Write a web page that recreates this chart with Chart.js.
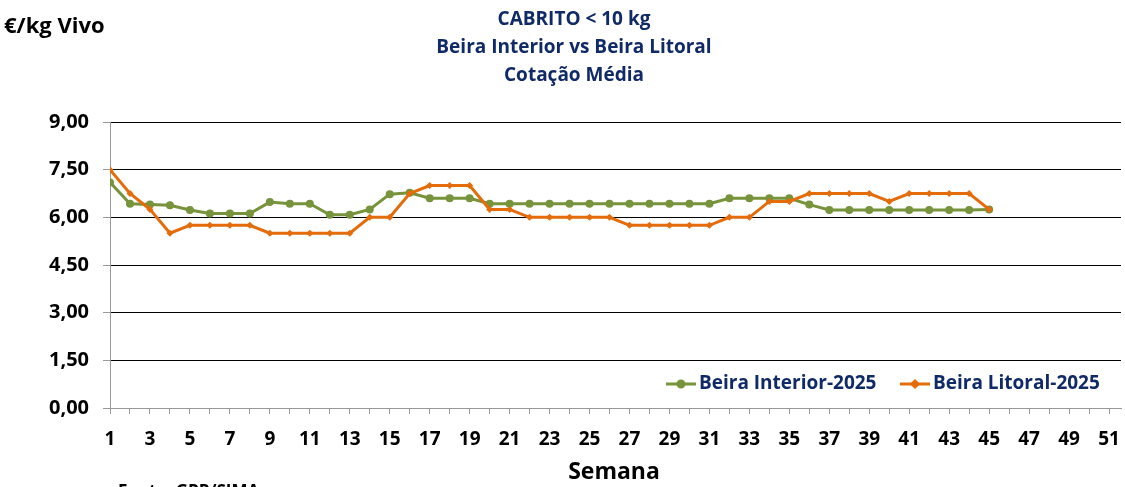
<!DOCTYPE html>
<html>
<head>
<meta charset="utf-8">
<script src="https://cdn.jsdelivr.net/npm/chart.js@4"></script>
<style>
  html, body { margin: 0; padding: 0; background: #fff; }
  #wrap { width: 1125px; height: 487px; }
</style>
</head>
<body>
<div id="wrap"><canvas id="myChart" width="1125" height="487"></canvas></div>
<script>
// dados
var weeks = [1, 2, 3, 4, 5, 6, 7, 8, 9, 10, 11, 12, 13, 14, 15, 16, 17, 18, 19, 20,
  21, 22, 23, 24, 25, 26, 27, 28, 29, 30, 31, 32, 33, 34, 35, 36, 37, 38, 39, 40,
  41, 42, 43, 44, 45];
var beiraInterior = [7.10, 6.43, 6.40, 6.38, 6.23, 6.12, 6.12, 6.12, 6.48, 6.43,
  6.43, 6.08, 6.08, 6.25, 6.73, 6.77, 6.60, 6.60, 6.60, 6.43,
  6.43, 6.43, 6.43, 6.43, 6.43, 6.43, 6.43, 6.43, 6.43, 6.43,
  6.43, 6.60, 6.60, 6.60, 6.60, 6.40, 6.23, 6.23, 6.23, 6.23,
  6.23, 6.23, 6.23, 6.23, 6.25];
var beiraLitoral = [7.50, 6.75, 6.25, 5.50, 5.75, 5.75, 5.75, 5.75, 5.50, 5.50,
  5.50, 5.50, 5.50, 6.00, 6.00, 6.75, 7.00, 7.00, 7.00, 6.25,
  6.25, 6.00, 6.00, 6.00, 6.00, 6.00, 5.75, 5.75, 5.75, 5.75,
  5.75, 6.00, 6.00, 6.50, 6.50, 6.75, 6.75, 6.75, 6.75, 6.50,
  6.75, 6.75, 6.75, 6.75, 6.25];
var axisWeeks = [];
for (var w = 1; w <= 51; w++) axisWeeks.push(w);
var yTicks = [0, 1.5, 3, 4.5, 6, 7.5, 9];

var titleLines = ["CABRITO < 10 kg", "Beira Interior vs Beira Litoral", "Cotação Média"];
var seriesNames = ["Beira Interior-2025", "Beira Litoral-2025"];

var GREEN = "#77933C";
var ORANGE = "#E46C0A";
var NAVY = "#102a68";
var FONT = "'Open Sans', 'DejaVu Sans', sans-serif";

// textos fora do grafico (titulo, legenda, eixos)
var extras = {
  id: "extras",
  afterDraw: function (chart) {
    var ctx = chart.ctx;
    ctx.save();
    ctx.textBaseline = "middle";

    // titulo
    ctx.fillStyle = NAVY;
    ctx.textAlign = "center";
    ctx.font = "bold 19px " + FONT;
    ctx.fillText(titleLines[0], 574, 20);
    ctx.fillText(titleLines[1], 574, 48);
    ctx.fillText(titleLines[2], 574, 76);

    // unidade
    ctx.fillStyle = "#000";
    ctx.textAlign = "left";
    ctx.font = "bold 22px " + FONT;
    ctx.fillText("€/kg Vivo", 4, 27);

    // titulo eixo x
    ctx.textAlign = "center";
    ctx.font = "bold 23px " + FONT;
    ctx.fillText("Semana", 614, 472);

    // fonte
    ctx.textAlign = "left";
    ctx.font = "bold 17px " + FONT;
    ctx.fillText("Fonte: GPP/SIMA", 118, 492);

    // legenda
    var items = [
      { x: 666, color: GREEN, style: "circle", text: seriesNames[0] },
      { x: 900, color: ORANGE, style: "rectRot", text: seriesNames[1] }
    ];
    var ly = 384;
    items.forEach(function (it) {
      ctx.strokeStyle = it.color;
      ctx.lineWidth = 3;
      ctx.beginPath();
      ctx.moveTo(it.x, ly);
      ctx.lineTo(it.x + 30, ly);
      ctx.stroke();
      ctx.fillStyle = it.color;
      Chart.helpers.drawPoint(ctx, { pointStyle: it.style, radius: 3, borderWidth: 1 }, it.x + 15, ly);
      ctx.fillStyle = NAVY;
      ctx.textAlign = "left";
      ctx.font = "bold 19px " + FONT;
      ctx.fillText(it.text, it.x + 33, ly);
    });
    ctx.restore();
  }
};

var ctx = document.getElementById("myChart").getContext("2d");
var chart = new Chart(ctx, {
  type: "line",
  data: {
    datasets: [
      {
        label: seriesNames[0],
        data: weeks.map(function (w, i) { return { x: w, y: beiraInterior[i] }; }),
        borderColor: GREEN,
        backgroundColor: GREEN,
        borderWidth: 3,
        pointStyle: "circle",
        pointRadius: 4,
        pointBorderWidth: 0,
        tension: 0,
        fill: false,
        order: 1
      },
      {
        label: seriesNames[1],
        data: weeks.map(function (w, i) { return { x: w, y: beiraLitoral[i] }; }),
        borderColor: ORANGE,
        backgroundColor: ORANGE,
        borderWidth: 3,
        pointStyle: "rectRot",
        pointRadius: 3.5,
        pointBorderWidth: 0,
        tension: 0,
        fill: false,
        order: 0
      }
    ]
  },
  options: {
    responsive: false,
    animation: false,
    layout: { padding: { top: 122, right: 3, left: 0, bottom: 0 } },
    plugins: {
      legend: { display: false },
      title: { display: false },
      tooltip: { enabled: false }
    },
    scales: {
      x: {
        type: "linear",
        min: 1,
        max: 51.6,
        afterBuildTicks: function (scale) {
          scale.ticks = axisWeeks.map(function (v) { return { value: v }; });
        },
        afterFit: function (scale) {
          scale.height = 79;
          scale.paddingLeft = 0;
          scale.paddingRight = 0;
        },
        grid: {
          drawOnChartArea: false,
          drawTicks: true,
          tickLength: 6,
          tickColor: "#999"
        },
        border: { color: "#999", width: 1 },
        ticks: {
          autoSkip: false,
          maxRotation: 0,
          padding: 14,
          color: "#000",
          font: { family: FONT, size: 19, weight: "bold" },
          callback: function (v) { return v % 2 === 1 ? String(v) : ""; }
        }
      },
      y: {
        min: 0,
        max: 9,
        afterBuildTicks: function (scale) {
          scale.ticks = yTicks.map(function (v) { return { value: v }; });
        },
        afterFit: function (scale) {
          scale.width = 110;
          scale.paddingTop = 0;
          scale.paddingBottom = 0;
        },
        grid: {
          color: "#000",
          lineWidth: 1,
          tickLength: 7,
          tickColor: "#999"
        },
        border: { color: "#999", width: 1 },
        ticks: {
          padding: 14,
          color: "#000",
          font: { family: FONT, size: 20, weight: "bold" },
          callback: function (v) { return v.toFixed(2).replace(".", ","); }
        }
      }
    }
  },
  plugins: [extras]
});
</script>
</body>
</html>
